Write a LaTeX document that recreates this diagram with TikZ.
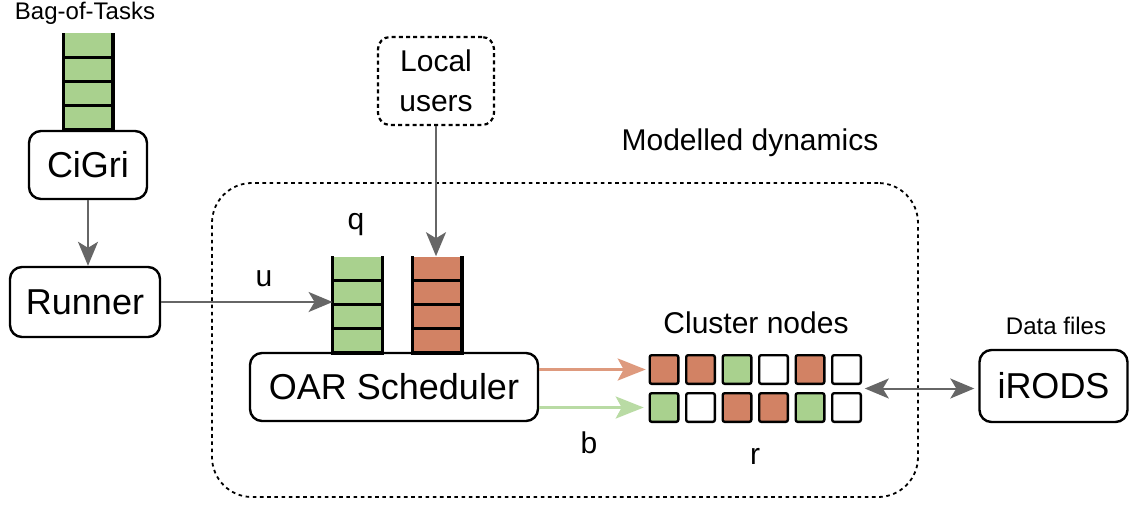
\documentclass[tikz,border=0pt]{standalone}
\usepackage{fontspec}
\setmainfont{Liberation Sans}
\usetikzlibrary{positioning,arrows.meta,calc}
\definecolor{taskgreen}{HTML}{A9D18E}
\definecolor{taskorange}{HTML}{D28264}
\definecolor{arrowgray}{HTML}{666666}
\definecolor{lightorange}{HTML}{DE9A7E}
\definecolor{lightgreen}{HTML}{B9DBA4}

\begin{document}
\begin{tikzpicture}[x=0.5pt,y=-0.5pt,
  big/.style={font=\fontsize{18}{21}\selectfont},
  mid/.style={font=\fontsize{15}{20}\selectfont,text=black},
  small/.style={font=\fontsize{12}{14}\selectfont},
  box/.style={rectangle,draw,line width=1.2pt,rounded corners=6pt,inner sep=0pt,big},
  userbox/.style={rectangle,draw,line width=1.1pt,dash pattern=on 2pt off 1.6pt,
    rounded corners=6pt,inner sep=0pt,mid,align=center},
  region/.style={rectangle,draw,line width=0.9pt,dash pattern=on 1.8pt off 1.8pt,
    rounded corners=20pt,inner sep=0pt},
  queue/.style={rectangle,inner sep=0pt,minimum width=24.5pt,minimum height=48pt},
  qline/.style={line width=1.6pt},
  cell/.style={rectangle,draw,line width=1.2pt,rounded corners=1pt,inner sep=0pt,
    outer sep=0pt,minimum size=14.3pt,fill=white},
  flow/.style={-{Stealth[length=12pt,width=10pt,inset=3pt]},line width=1pt,color=arrowgray},
  oflow/.style={-{Stealth[length=14pt,width=11pt,inset=3pt]},line width=1.5pt,color=lightorange},
  gflow/.style={-{Stealth[length=14pt,width=11pt,inset=3pt]},line width=1.5pt,color=lightgreen}]

  \useasboundingbox (0,0) rectangle (1129,504);

  % dashed region of the model
  \node[region,minimum width=353pt,minimum height=157pt] (dyn) at (565,340) {};
  \node[mid] (dyntext) at (750,143) {Modelled dynamics};

  % CiGri side
  \node[small] (bagtext) at (85,13) {Bag-of-Tasks};
  \node[box,minimum width=59pt,minimum height=34pt] (cigri) at (88,165) {CiGri};
  \node[queue,fill=taskgreen,above=0pt of cigri] (bag) {};
  \node[box,minimum width=75pt,minimum height=35pt] (runner) at (85,302) {Runner};

  % cluster side
  \node[box,minimum width=144pt,minimum height=34pt] (oar) at (394,387) {OAR Scheduler};
  \node[queue,fill=taskgreen,anchor=south] (q) at (357.5,353) {};
  \node[queue,fill=taskorange,anchor=south] (lq) at (437,353) {};
  \node[mid] (qtext) at (356,225) {q};
  \node[userbox,minimum width=58pt,minimum height=44pt] (users) at (436,81) {Local\\users};

  \foreach \n in {bag,q,lq} {
    \draw[qline] (\n.north west) -- (\n.south west) -- (\n.south east) -- (\n.north east);
    \foreach \f in {.25,.5,.75}
      \draw[qline] ($(\n.south west)!\f!(\n.north west)$) -- ($(\n.south east)!\f!(\n.north east)$);
  }

  % cluster nodes
  \node[mid] (clustertext) at (756,323) {Cluster nodes};
  \node[cell,fill=taskorange] (c11) at (664,369.5) {};
  \node[cell,fill=taskorange,right=3.95pt of c11] (c12) {};
  \node[cell,fill=taskgreen,right=3.95pt of c12] (c13) {};
  \node[cell,right=3.95pt of c13] (c14) {};
  \node[cell,fill=taskorange,right=3.95pt of c14] (c15) {};
  \node[cell,right=3.95pt of c15] (c16) {};
  \node[cell,fill=taskgreen,below=4.7pt of c11] (c21) {};
  \node[cell,right=3.95pt of c21] (c22) {};
  \node[cell,fill=taskorange,right=3.95pt of c22] (c23) {};
  \node[cell,fill=taskorange,right=3.95pt of c23] (c24) {};
  \node[cell,fill=taskgreen,right=3.95pt of c24] (c25) {};
  \node[cell,right=3.95pt of c25] (c26) {};
  \node[mid] (rtext) at (755,456) {r};
  \coordinate (gride) at ($(c16.east)!.5!(c26.east)$);

  % storage
  \node[small] (datatext) at (1056,326) {Data files};
  \node[box,minimum width=74pt,minimum height=36pt] (irods) at (1053.5,386) {iRODS};

  % connectors
  \draw[flow] (cigri.south) -- (cigri.south |- runner.north);
  \draw[flow] (runner.east) -- (runner.east -| q.west) node[mid,pos=.6,above=4pt] {u};
  \draw[flow] (users.south) -- (users.south |- lq.north);
  \draw[oflow,shorten >=2pt] (oar.east |- c11.west) -- (c11.west);
  \draw[gflow,shorten >=3pt] (oar.east |- c21.west) -- (c21.west) node[mid,pos=.45,below=8pt] {b};
  \draw[flow,{Stealth[length=12pt,width=10pt,inset=3pt]}-{Stealth[length=12pt,width=10pt,inset=3pt]},
    shorten <=2pt,shorten >=2pt] (gride) -- (gride -| irods.west);
\end{tikzpicture}
\end{document}
